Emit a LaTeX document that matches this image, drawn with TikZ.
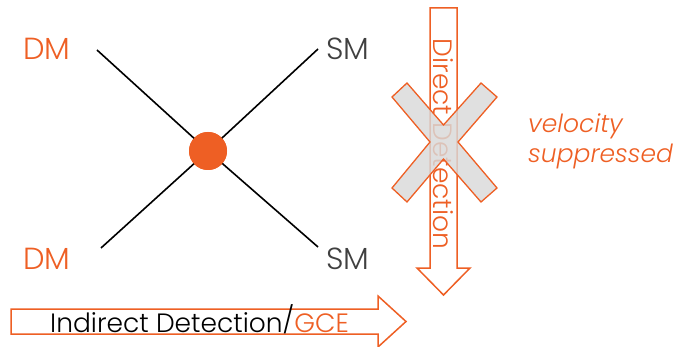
\documentclass[tikz,border=0pt]{standalone}
\usepackage{fontspec}
\setmainfont{Poppins Light}[ItalicFont={Poppins Light Italic}]
\definecolor{dmorange}{RGB}{238,95,36}
\definecolor{smgray}{RGB}{64,64,64}
\definecolor{crossgray}{RGB}{217,217,217}
\tikzset{
  leg/.style={line width=1.6pt, black},
  particle/.style={font=\fontsize{30.5}{30.5}\selectfont, inner sep=0pt, anchor=base west},
  dmlabel/.style={particle, text=dmorange},
  smlabel/.style={particle, text=smgray},
  detarrow/.style={draw=dmorange, line width=1.5pt, fill=white, line join=miter},
  detlabel/.style={font=\fontsize{26.5}{26.5}\selectfont, inner sep=0pt},
  note/.style={font=\fontsize{25}{25}\selectfont\itshape, text=dmorange, inner sep=0pt, anchor=base west}
}
\begin{document}
\begin{tikzpicture}[x=1pt,y=-1pt]
\useasboundingbox (0,0) rectangle (676,347);

% particle labels
\node[dmlabel] (dm1) at (23,60) {DM};
\node[dmlabel] (dm2) at (23,269) {DM};
\node[smlabel] (sm1) at (326,60) {SM};
\node[smlabel] (sm2) at (326,269) {SM};

% annihilation vertex and its four legs
\node[circle, fill=dmorange, minimum size=38pt, inner sep=0pt] (vtx) at (208,151) {};
\coordinate (l1) at (97,50);
\coordinate (l2) at (101,248);
\coordinate (r1) at (318,49);
\coordinate (r2) at (318,247);
\draw[leg] (l1) -- (vtx.center);
\draw[leg] (l2) -- (vtx.center);
\draw[leg] (r1) -- (vtx.center);
\draw[leg] (r2) -- (vtx.center);
\node[circle, fill=dmorange, minimum size=38pt, inner sep=0pt] at (vtx) {};

% direct detection arrow (downwards)
\draw[detarrow] (430,8) -- (457,8) -- (457,268) -- (470,268) -- (443.5,295)
  -- (417,268) -- (430,268) -- cycle;
\node[detlabel, text=dmorange, rotate=-90] (dd) at (443.5,144) {Direct Detection};

% cross over direct detection
\fill[crossgray, fill opacity=0.82] (407,83) -- (443.5,125) -- (481,83) -- (497,97)
  -- (458,142) -- (497,188) -- (481,202) -- (443.5,159) -- (407,202)
  -- (392,188) -- (430,142) -- (392,97) -- cycle;
\draw[dmorange, line width=1.3pt, line join=miter] (407,83) -- (443.5,125) -- (481,83) -- (497,97)
  -- (458,142) -- (497,188) -- (481,202) -- (443.5,159) -- (407,202)
  -- (392,188) -- (430,142) -- (392,97) -- cycle;

\node[note] (v1) at (528,133) {velocity};
\node[note] (v2) at (528,163) {suppressed};

% indirect detection arrow (rightwards)
\draw[detarrow] (11,309) -- (378,309) -- (378,296) -- (406,321.5) -- (378,347)
  -- (378,334) -- (11,334) -- cycle;
\node[detlabel, anchor=base west] (id) at (50,332) {Indirect Detection\raisebox{2.5pt}{/}\textcolor{dmorange}{GCE}};
\end{tikzpicture}
\end{document}
